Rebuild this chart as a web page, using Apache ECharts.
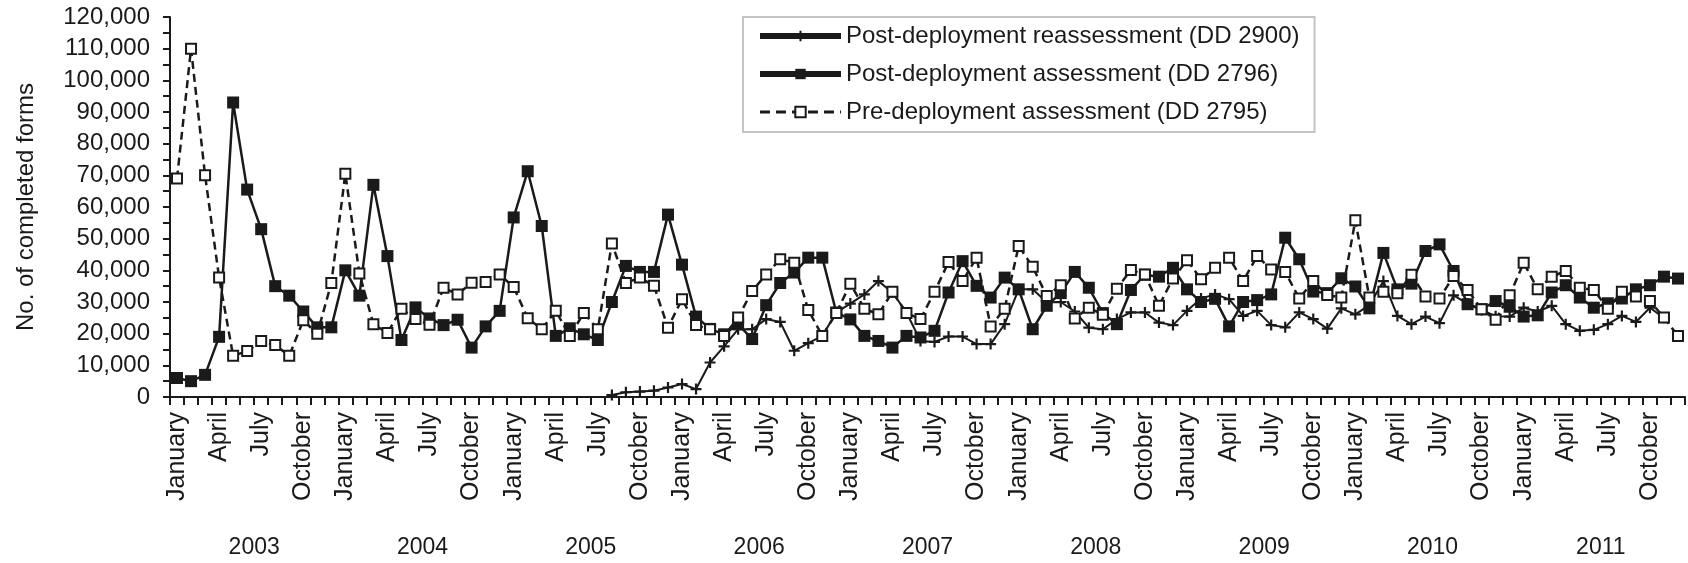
<!DOCTYPE html>
<html>
<head>
<meta charset="utf-8">
<script src="https://cdn.jsdelivr.net/npm/echarts@6/dist/echarts.min.js"></script>
<style>
  html, body { margin: 0; padding: 0; background: #fff; }
  #chart { width: 1688px; height: 563px; }
</style>
</head>
<body>
<div id="chart"></div>
<script>
// months Jan 2003 .. Dec 2011
var years = ['2003', '2004', '2005', '2006', '2007', '2008', '2009', '2010', '2011'];
var monthNames = ['January', 'February', 'March', 'April', 'May', 'June',
  'July', 'August', 'September', 'October', 'November', 'December'];

var seriesNames = [
  'Post-deployment reassessment (DD 2900)',
  'Post-deployment assessment (DD 2796)',
  'Pre-deployment assessment (DD 2795)'
];

// DD 2900, starts mid 2005
var reassess = [
  null, null, null, null, null, null, null, null, null, null, null, null,
  null, null, null, null, null, null, null, null, null, null, null, null,
  null, null, null, null, null, null, null, 600, 1500, 1700, 2000, 3000,
  4100, 2500, 10900, 16000, 21400, 21400, 24600, 23700, 14600, 17000, 19300, 26700,
  29500, 32400, 36600, 33000, 26700, 17700, 17400, 19100, 19100, 16700, 16700, 23000,
  34000, 34000, 29900, 30000, 27000, 21900, 21400, 24600, 26700, 26700, 23500, 22700,
  27200, 31100, 32400, 30900, 25600, 27200, 22700, 22000, 26700, 24600, 21600, 28000,
  26100, 29000, 36600, 25600, 23000, 25400, 23300, 32100, 29500, 27500, 25500, 25400,
  28200, 27000, 28800, 23000, 20900, 21200, 23000, 25600, 23700, 28200, 25000, null
];

// DD 2796
var postAssess = [
  6000, 5000, 7000, 19000, 93000, 65500, 53000, 35000, 32000, 27000, 22000, 22000,
  40000, 32000, 67000, 44500, 18000, 28300, 24800, 22700, 24400, 15600, 22300, 27200,
  56700, 71300, 54000, 19300, 21700, 19800, 18000, 30000, 41400, 39500, 39500, 57600,
  41800, 25400, 21500, 19800, 23000, 18300, 29000, 36000, 39300, 44000, 44000, 26700,
  24500, 19300, 17700, 15600, 19300, 18800, 20900, 33000, 42900, 35100, 31400, 37700,
  34000, 21400, 28800, 32800, 39500, 34500, 26500, 23000, 33800, 38600, 38000, 40800,
  34000, 30000, 31000, 22300, 30000, 30600, 32400, 50300, 43500, 33300, 32800, 37500,
  34900, 28000, 45500, 34000, 35800, 46100, 48200, 39800, 29300, 27700, 30300, 28500,
  25400, 25800, 33000, 35300, 31400, 28200, 29600, 31100, 34000, 35300, 38000, 37400
];

// DD 2795
var preAssess = [
  69000, 110000, 70000, 37700, 13000, 14500, 17700, 16400, 13000, 24200, 20000, 36000,
  70500, 39000, 23000, 20200, 27900, 24600, 22800, 34500, 32400, 36100, 36300, 38700,
  34700, 24900, 21400, 27200, 19300, 26500, 21400, 48500, 36000, 37700, 35100, 21900,
  30900, 22700, 21400, 19300, 25100, 33500, 38700, 43500, 42400, 27500, 19300, 26500,
  35800, 27900, 26100, 33200, 26500, 24600, 33200, 42600, 36600, 44000, 22300, 27900,
  47700, 41100, 31900, 35300, 24800, 28200, 26000, 34200, 40100, 38700, 28800, 37400,
  43200, 37200, 40800, 44000, 36600, 44500, 40300, 39500, 31100, 36600, 32200, 31400,
  55800, 31400, 33200, 32800, 38600, 31700, 31100, 38200, 33800, 27700, 24400, 32100,
  42400, 34000, 38000, 39800, 34500, 33800, 27900, 33200, 31700, 30300, 25100, 19300
];

var categories = [];
years.forEach(function (y) {
  monthNames.forEach(function (m) { categories.push(m + ' ' + y); });
});

var font = 'Liberation Sans, Arial, sans-serif';
var ink = '#1a1a1a';
var plusPath = 'path://M4,0H6V4H10V6H6V10H4V6H0V4H4Z';

function commas(v) {
  return String(v).replace(/\B(?=(\d{3})+(?!\d))/g, ',');
}

var chart = echarts.init(document.getElementById('chart'));

chart.setOption({
  animation: false,
  backgroundColor: '#fff',
  textStyle: { fontFamily: font, color: ink },
  grid: { left: 170, right: 3, top: 17, bottom: 166, containLabel: false },
  legend: {
    orient: 'vertical',
    left: 743,
    top: 17,
    padding: [5, 15, 6, 14],
    itemWidth: 81,
    itemHeight: 13,
    itemGap: 10,
    borderColor: '#c4c4c4',
    borderWidth: 2,
    textStyle: { fontFamily: font, fontSize: 24, color: ink, lineHeight: 28 },
    data: [
      { name: seriesNames[0], lineStyle: { width: 6, type: 'solid' } },
      { name: seriesNames[1], lineStyle: { width: 6, type: 'solid' } },
      { name: seriesNames[2], lineStyle: { width: 3, type: [10, 6] } }
    ]
  },
  xAxis: [{
    type: 'category',
    data: categories,
    boundaryGap: true,
    axisLine: { lineStyle: { color: ink, width: 2 } },
    axisTick: { show: true, interval: 0, length: 8, lineStyle: { color: ink, width: 2 } },
    axisLabel: {
      interval: function (i) { return i % 3 === 0; },
      rotate: 90,
      margin: 15,
      fontSize: 25,
      fontFamily: font,
      color: ink,
      formatter: function (v) { return v.split(' ')[0]; }
    },
    splitLine: { show: false }
  }, {
    type: 'category',
    data: years,
    position: 'bottom',
    offset: 139,
    boundaryGap: true,
    axisLine: { show: false },
    axisTick: { show: false },
    axisLabel: { margin: 0, fontSize: 23, fontFamily: font, color: ink }
  }],
  yAxis: {
    type: 'value',
    min: 0,
    max: 120000,
    interval: 10000,
    name: 'No. of completed forms',
    nameLocation: 'middle',
    nameGap: 132,
    nameTextStyle: { fontSize: 24, fontFamily: font, color: ink },
    axisLine: { show: true, lineStyle: { color: ink, width: 2 } },
    axisTick: { show: true, length: 7, lineStyle: { color: ink, width: 2 } },
    minorTick: { show: true, splitNumber: 2, length: 7, lineStyle: { color: ink, width: 2 } },
    axisLabel: { margin: 20, fontSize: 24, fontFamily: font, color: ink, formatter: commas },
    splitLine: { show: false }
  },
  series: [{
    name: seriesNames[0],
    type: 'line',
    data: reassess,
    connectNulls: false,
    symbol: plusPath,
    symbolSize: 11,
    showAllSymbol: true,
    itemStyle: { color: ink },
    lineStyle: { color: ink, width: 2 },
    z: 2
  }, {
    name: seriesNames[1],
    type: 'line',
    data: postAssess,
    symbol: 'rect',
    symbolSize: 12,
    showAllSymbol: true,
    itemStyle: { color: ink },
    lineStyle: { color: ink, width: 2.5 },
    z: 3
  }, {
    name: seriesNames[2],
    type: 'line',
    data: preAssess,
    symbol: 'rect',
    symbolSize: 10,
    showAllSymbol: true,
    itemStyle: { color: '#fff', borderColor: ink, borderWidth: 2 },
    lineStyle: { color: ink, width: 2.5, type: [8, 5] },
    z: 4
  }]
});
</script>
</body>
</html>
